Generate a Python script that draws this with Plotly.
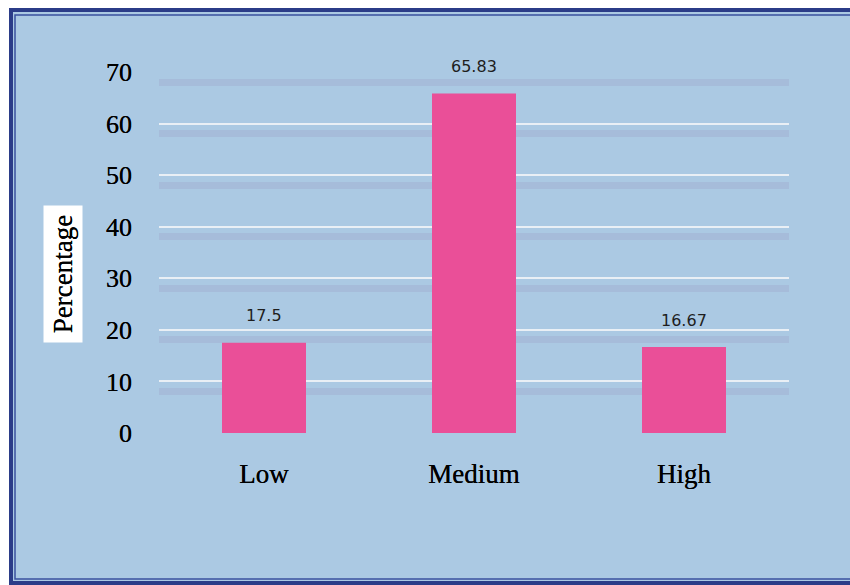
import plotly.graph_objects as go

categories = ["Low", "Medium", "High"]
values = [17.5, 65.83, 16.67]
value_labels = ["17.5", "65.83", "16.67"]
y_ticks = [0, 10, 20, 30, 40, 50, 60, 70]

W, H = 850, 585
ML, MR, MT, MB = 159, 61, 72, 152
PW, PH = W - ML - MR, H - MT - MB

def px_x(p):
    return (p - ML) / PW

def px_y(p):
    return (H - MB - p) / PH

y_range = [0, 70]
shadow_off = 10 / PH * (y_range[1] - y_range[0])

fig = go.Figure()
fig.add_trace(go.Bar(
    x=categories, y=values,
    marker=dict(color="#ea4f98", line=dict(width=0)),
    width=0.4, showlegend=False, hoverinfo="x+y",
))
fig.add_trace(go.Scatter(x=[], y=[], yaxis="y2", showlegend=False))

for c, v, t in zip(categories, values, value_labels):
    fig.add_annotation(x=c, y=v, text=t, showarrow=False, yanchor="middle",
                       yshift=27, font=dict(family="DejaVu Sans", size=16, color="#1e1e1e"))

fig.add_annotation(
    xref="paper", yref="paper", x=px_x(63), y=px_y(274), xanchor="center", yanchor="middle",
    text="Percentage",
    textangle=-90, showarrow=False, bgcolor="white", width=134, height=36,
    font=dict(family="Liberation Serif", size=27, color="black", shadow="0px 0px 0.6px black"),
)

BLUE = "#2b3c88"
shapes = [
    dict(type="rect", xref="paper", yref="paper", layer="below",
         x0=px_x(11), x1=px_x(870), y0=px_y(10), y1=px_y(583),
         fillcolor="#abc9e3", line=dict(color=BLUE, width=4)),
    dict(type="rect", xref="paper", yref="paper", layer="below",
         x0=px_x(15), x1=px_x(875), y0=px_y(15), y1=px_y(579),
         fillcolor="rgba(0,0,0,0)", line=dict(color="#3a509e", width=1.5)),
]

fig.update_layout(
    width=W, height=H,
    margin=dict(l=ML, r=MR, t=MT, b=MB),
    paper_bgcolor="white",
    plot_bgcolor="rgba(0,0,0,0)",
    shapes=shapes,
    bargap=0.6,
    xaxis=dict(
        showgrid=False, zeroline=False, showline=False, ticks="",
        ticklabelstandoff=22,
        tickfont=dict(family="Liberation Serif", size=27, color="black", shadow="0px 0px 0.6px black"),
    ),
    yaxis=dict(
        range=y_range, tickvals=y_ticks, ticks="",
        showgrid=True, gridcolor="#e9eff5", gridwidth=2,
        zeroline=False, showline=False, ticklabelstandoff=26,
        tickfont=dict(family="Liberation Serif", size=26, color="black", shadow="0px 0px 0.6px black"),
    ),
    yaxis2=dict(
        overlaying="y", range=[y_range[0] + shadow_off, y_range[1] + shadow_off],
        tickvals=y_ticks[1:], showticklabels=False, ticks="",
        showgrid=True, gridcolor="rgba(150,140,185,0.22)", gridwidth=7,
        zeroline=False, showline=False,
    ),
)

fig.write_html("out.html")
